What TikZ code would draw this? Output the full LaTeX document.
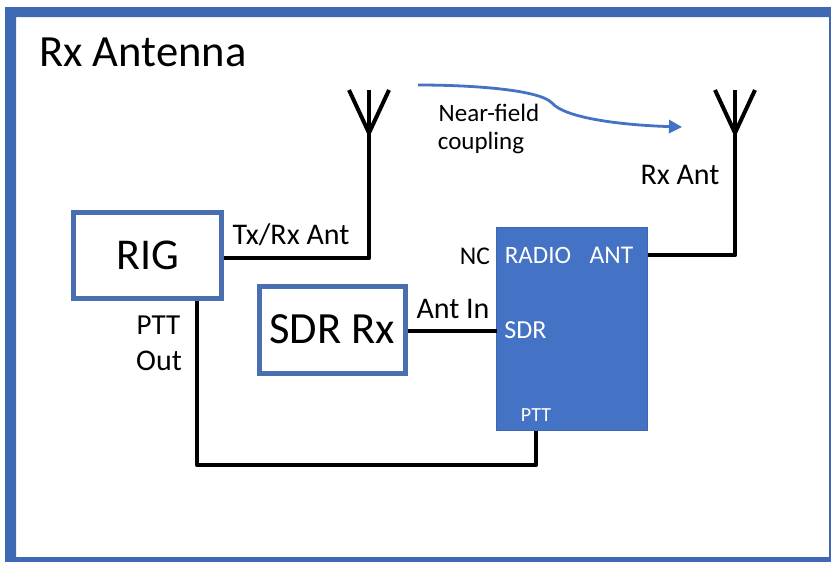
\documentclass[tikz,border=0pt]{standalone}
\usepackage{fontspec}
\setmainfont{Carlito}
\usetikzlibrary{arrows.meta,calc}
\definecolor{frameblue}{HTML}{3F69B5}
\definecolor{fillblue}{HTML}{4472C4}
\definecolor{edgeblue}{HTML}{4A6FB0}
\tikzset{
  boxnode/.style={draw=edgeblue,line width=5pt,fill=white,inner sep=0pt,outer sep=2.5pt,text=black},
  wire/.style={draw=black,line width=4.4pt,line join=round,line cap=butt},
  antline/.style={draw=black,line width=4pt,line join=miter},
  lab/.style={inner sep=0pt,text=black,anchor=center},
  wlab/.style={inner sep=0pt,text=white,anchor=center}
}
\begin{document}
\begin{tikzpicture}[x=1pt,y=-1pt]
\useasboundingbox (0,0) rectangle (831,562);
\fill[white] (0,0) rectangle (831,562);
\fill[frameblue,even odd rule] (5,7) rectangle (831,562) (16,17) rectangle (829,557);
\node[lab,font=\fontsize{44.6}{48}\selectfont] (title) at (143,52) {Rx Antenna};
% boxes
\node[boxnode,minimum width=148pt,minimum height=86pt,font=\fontsize{44}{48}\selectfont] (rig) at (147.5,255.5) {RIG};
\node[boxnode,minimum width=146pt,minimum height=87pt,font=\fontsize{44.6}{48}\selectfont] (sdr) at (332,329.5) {SDR Rx};
\node[draw=fillblue!90!black,line width=0.8pt,fill=fillblue,minimum width=151pt,minimum height=203pt,inner sep=0pt,outer sep=0pt] (radio) at (572,329) {};
% antennas
\coordinate (a1) at (369,133);
\coordinate (a1top) at (369,90);
\coordinate (a1l) at (349,90);
\coordinate (a1r) at (389,90);
\coordinate (a2) at (735,133);
\coordinate (a2top) at (735,90);
\coordinate (a2l) at (715,90);
\coordinate (a2r) at (755,90);
\draw[antline] (a1l) -- (a1) -- (a1r);
\draw[antline] (a1top) -- (a1);
\draw[antline] (a2l) -- (a2) -- (a2r);
\draw[antline] (a2top) -- (a2);
% connectors
\draw[wire] ([yshift=-2.5pt]rig.east) -| (a1);
\draw[wire] ([yshift=74pt]radio.east) -| (a2);
\draw[wire] (sdr.east |- 0,331) -- (radio.west |- 0,331);
\draw[wire] (rig.south -| 197,0) -- (197,465) -- (536,465) -- (radio.south -| 536,0);
% coupling arrow
\coordinate (c1) at (418,85);
\coordinate (c2) at (552,103);
\coordinate (c3) at (682,127);
\draw[draw=fillblue,line width=2.8pt,-{Triangle[length=13pt,width=13pt]}]
  (c1) .. controls (475,85) and (540,90) .. (c2) .. controls (565,118) and (620,125) .. (c3);
% labels
\node[lab,font=\fontsize{25}{28}\selectfont] (nf) at (489,113) {Near-field};
\node[lab,font=\fontsize{25}{28}\selectfont] (cp) at (481,143) {coupling};
\node[lab,font=\fontsize{30}{34}\selectfont] (rxant) at (680,175) {Rx Ant};
\node[lab,font=\fontsize{30}{34}\selectfont] (txrx) at (291,235) {Tx/Rx Ant};
\node[lab,font=\fontsize{30}{34}\selectfont] (antin) at (453,309) {Ant In};
\node[lab,font=\fontsize{25.5}{28}\selectfont] (nc) at (475,256) {NC};
\node[lab,font=\fontsize{29}{32}\selectfont] (ptt1) at (158.5,325) {PTT};
\node[lab,font=\fontsize{30}{34}\selectfont] (ptt2) at (159,361) {Out};
\node[wlab,font=\fontsize{25}{28}\selectfont] (rl) at (538,255) {RADIO};
\node[wlab,font=\fontsize{25.5}{28}\selectfont] (al) at (611.5,255) {ANT};
\node[wlab,font=\fontsize{26}{28}\selectfont] (sl) at (525.5,330) {SDR};
\node[wlab,font=\fontsize{20}{22}\selectfont] (pl) at (536,415) {PTT};
\end{tikzpicture}
\end{document}
